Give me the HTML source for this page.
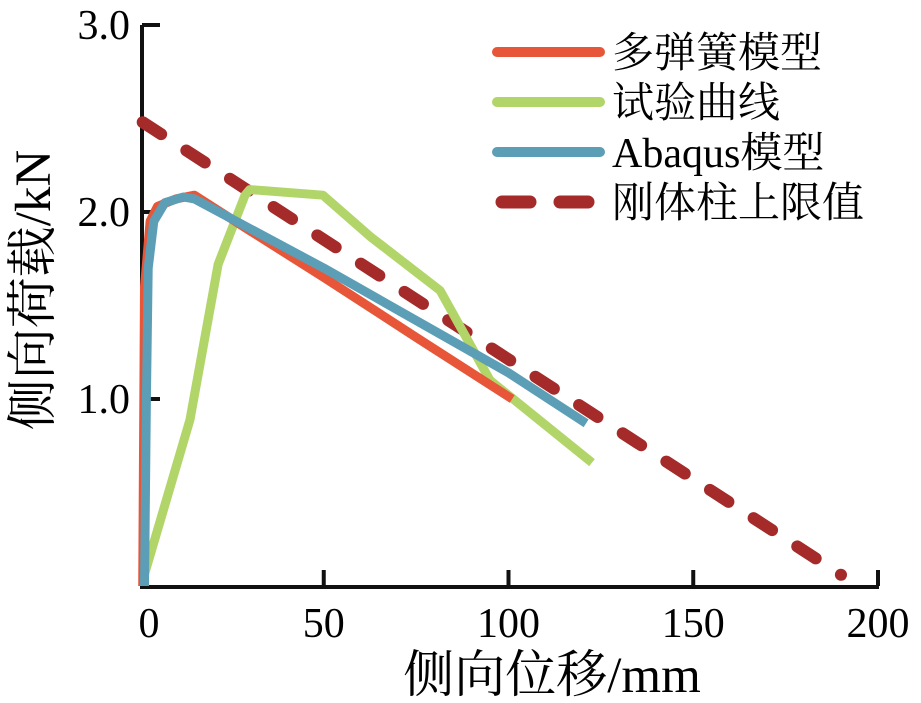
<!DOCTYPE html>
<html><head><meta charset="utf-8"><style>
html,body{margin:0;padding:0;background:#fff;}
svg{display:block;font-family:"Liberation Serif","Noto Serif CJK SC",serif;}
</style></head><body>
<svg id="chart" width="921" height="703" viewBox="0 0 921 703">
<g id="axes"></g>
<g id="series"></g>
<g id="legend"></g>
<text x="50" y="290" font-size="51" text-anchor="middle" transform="rotate(-90 50 290)">侧向荷载/kN</text>
<text x="552" y="692" font-size="51" text-anchor="middle">侧向位移/mm</text>
</svg>
<script>
const xTicks=[0,50,100,150,200];
const yTicks=[1.0,2.0,3.0];
const yTickLabels=["1.0","2.0","3.0"];
const seriesNames=["多弹簧模型","试验曲线","Abaqus模型","刚体柱上限值"];
const redX=[1,1.5,3,5,10,15,30,50,75,101];
const redY=[0,1.6,1.95,2.03,2.07,2.09,1.9,1.65,1.33,1.0];
const greenX=[1,13.8,21.4,28.7,30,49.8,62.5,81.5,95,122.6];
const greenY=[0.03,0.89,1.72,2.09,2.12,2.09,1.87,1.58,1.10,0.66];
const blueX=[1.5,2,2.5,4,7,12,15,50,100,121];
const blueY=[0,1.0,1.7,1.95,2.05,2.08,2.07,1.7,1.14,0.87];
const dashX=[1,190];
const dashY=[2.48,0.06];

const NS="http://www.w3.org/2000/svg";
const X0=139,X1=878,Y0=586,Y3=25;
function sx(v){return X0+(X1-X0)*v/200;}
function sy(v){return Y0-(Y0-Y3)*v/3;}
function mk(tag,attrs,parent){const e=document.createElementNS(NS,tag);for(const k in attrs)e.setAttribute(k,attrs[k]);parent.appendChild(e);return e;}
const axes=document.getElementById('axes');
let ax=mk('path',{d:`M${X0+3} ${sy(3)} V${Y0+1} H${X1+1}`,fill:'none',stroke:'#111','stroke-width':4},axes);


xTicks.forEach(t=>{
 if(t>0){const l=mk('line',{x1:sx(t),x2:sx(t),y1:Y0,y2:Y0-16,stroke:'#111','stroke-width':4},axes);
 
 }
 const tx=mk('text',{x:sx(t)+(t==0?10:0),y:637,'font-size':42,'text-anchor':'middle'},axes);tx.textContent=t;
 
 
});
yTicks.forEach((t,i)=>{
 const l=mk('line',{x1:X0+3,x2:X0+21,y1:sy(t),y2:sy(t),stroke:'#111','stroke-width':4},axes);
 
 
 const tx=mk('text',{x:130,y:sy(t)+14,'font-size':42,'text-anchor':'end'},axes);tx.textContent=yTickLabels[i];
 
 
});
const ser=document.getElementById('series');
function line(xs,ys,color,w,dash,name){
 const d=xs.map((x,i)=>(i?'L':'M')+sx(x).toFixed(1)+' '+sy(ys[i]).toFixed(1)).join(' ');
 const p=mk('path',{d:d,fill:'none',stroke:color,'stroke-width':w,'stroke-linejoin':'round','stroke-linecap':dash?'round':'butt'},ser);
 if(dash)p.setAttribute('stroke-dasharray',dash);
 
 
}
line(dashX,dashY,'#a52a2a',12,'22 30','rigid-column-upper-limit-line');
line(greenX,greenY,'#b2d56a',9,null,'test-curve-line');
line(redX,redY,'#e8563a',9,null,'multi-spring-model-line');
line(blueX,blueY,'#5b9eb6',9,null,'abaqus-model-line');
const leg=document.getElementById('legend');
const colors=['#e8563a','#b2d56a','#5b9eb6','#a52a2a'];
seriesNames.forEach((n,i)=>{
 const y=52+i*50;
 const l=mk('line',{x1:497,x2:600,y1:y,y2:y,stroke:colors[i],'stroke-width':i==3?13:10,'stroke-linecap':'round'},leg);
 if(i==3){l.setAttribute('stroke-dasharray','28 30');l.setAttribute('x1','502');}
 
 
 const t=mk('text',{x:612,y:y+15,'font-size':42},leg);t.textContent=n;
 
 
});
</script>
</body></html>
